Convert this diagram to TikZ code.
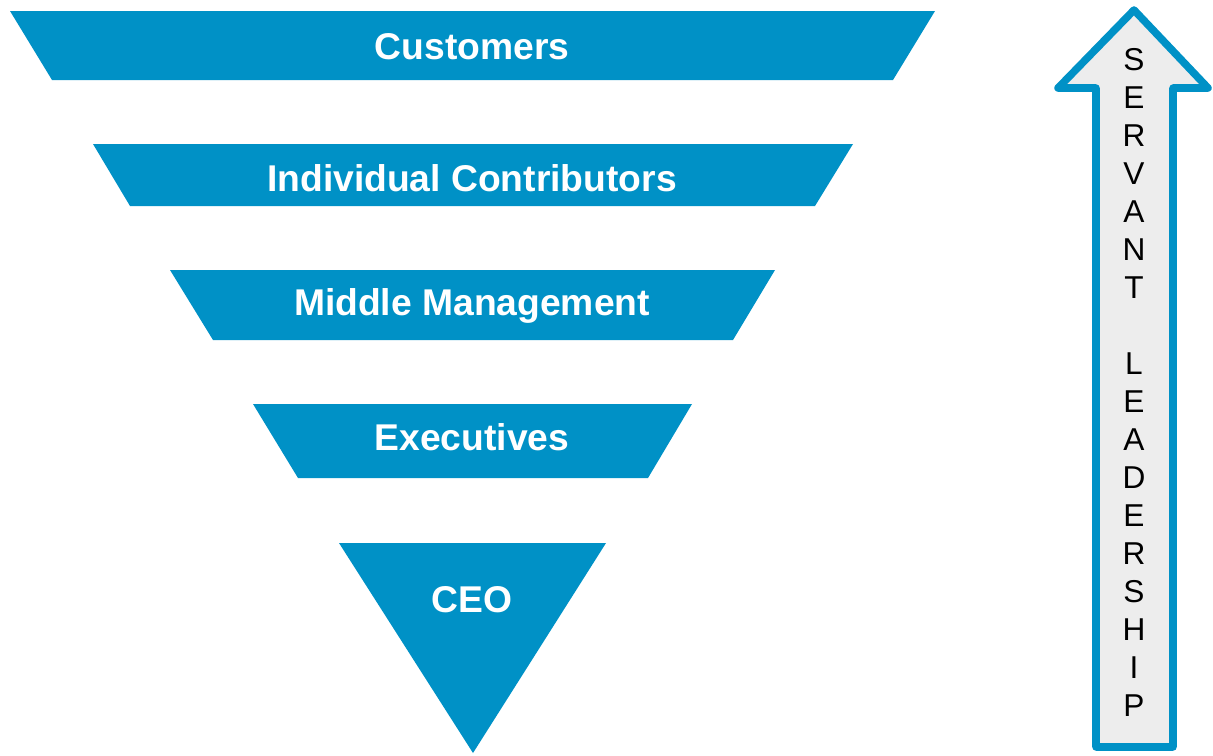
\documentclass[tikz,border=0pt]{standalone}
\usepackage{fontspec}
\setmainfont{Liberation Sans}
\usetikzlibrary{positioning}
\definecolor{bandblue}{RGB}{0,145,198}
\definecolor{arrowgray}{RGB}{237,237,237}

\tikzset{
  band/.style={fill=bandblue},
  bandlabel/.style={text=white, font=\fontsize{21.2}{25}\selectfont\bfseries},
  letter/.style={text=black, font=\fontsize{18}{20}\selectfont, inner sep=0pt}
}

\begin{document}
\begin{tikzpicture}[x=0.02cm, y=-0.02cm]
    \useasboundingbox (0,0) rectangle (1213,755);

    % Bands
    \fill [band] (10,11) -- (935,11) -- (893,80) -- (52,80) -- cycle;
    \fill [band] (93,144) -- (853,144) -- (815,206) -- (130,206) -- cycle;
    \fill [band] (170,270) -- (775,270) -- (733,340) -- (213,340) -- cycle;
    \fill [band] (253,404) -- (692,404) -- (648,478) -- (298,478) -- cycle;
    \fill [band] (339,543) -- (606,543) -- (473,753) -- cycle;

    % Labels
    \node [bandlabel] (customers) at (472,47) {Customers};
    \node [bandlabel] (contributors) at (472,178) {Individual Contributors};
    \node [bandlabel] (middle) at (472,306) {Middle Management};
    \node [bandlabel] (executives) at (472,437) {Executives};
    \node [bandlabel] (ceo) at (472,600) {CEO};

    % Arrow
    \draw [draw=bandblue, fill=arrowgray, line width=4.3pt, line join=round]
      (1134,10) -- (1208,88) -- (1173,88) -- (1173,747) -- (1096,747)
      -- (1096,88) -- (1058,88) -- cycle;
    \foreach \ch [count=\i] in {S,E,R,V,A,N,T,{},L,E,A,D,E,R,S,H,I,P}
      \node [letter] (ltr\i) at (1134,22+38*\i) {\ch};
\end{tikzpicture}
\end{document}
